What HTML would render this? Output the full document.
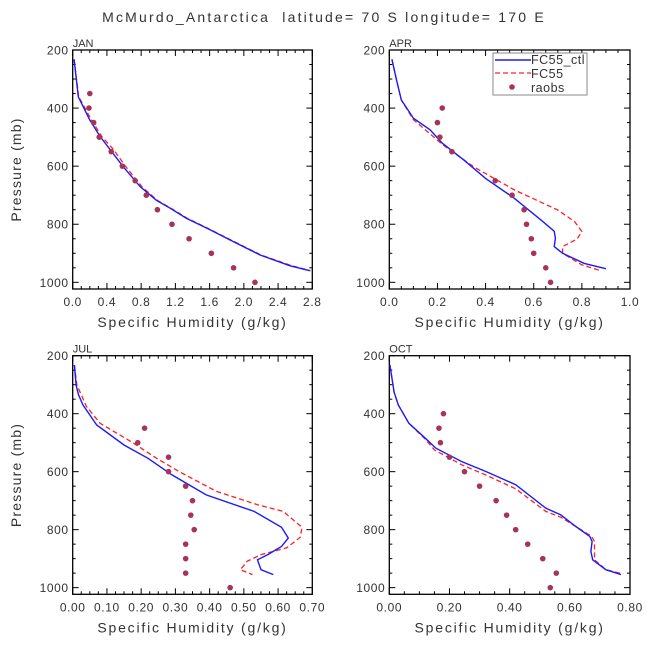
<!DOCTYPE html>
<html><head><meta charset="utf-8"><style>
body{margin:0;background:#fff;}
svg text{font-family:"Liberation Sans",sans-serif;fill:#333;}
</style></head><body>
<svg id="c" width="648" height="648" xmlns="http://www.w3.org/2000/svg"></svg>
<script>
const months = ["JAN","APR","JUL","OCT"];
const obsP = [350,400,450,500,550,600,650,700,750,800,850,900,950,1000];
const janCtlQ = [0.016,0.066,0.2,0.32,0.44,0.59,0.79,0.98,1.14,1.33,1.57,1.88,2.19,2.54,2.77];
const janCtlP = [232,361,441,498,544,602,671,718,745,780,814,860,906,943,960];
const janFcQ = [0.016,0.07,0.22,0.34,0.48,0.62,0.81,0.99,1.15,1.34,1.58,1.89,2.2,2.56,2.78];
const janFcP = [232,361,441,498,544,602,671,718,745,780,814,860,906,943,960];
const janObsQ = [0.2,0.19,0.245,0.31,0.45,0.58,0.73,0.86,0.99,1.16,1.36,1.62,1.88,2.13];
const aprCtlQ = [0.011,0.03,0.05,0.1,0.17,0.22,0.31,0.40,0.52,0.63,0.685,0.69,0.685,0.72,0.81,0.9];
const aprCtlP = [232,303,372,435,475,521,579,642,711,785,824,848,877,900,935,953];
const aprFcQ = [0.011,0.03,0.05,0.1,0.16,0.22,0.35,0.52,0.7,0.77,0.80,0.78,0.72,0.72,0.8,0.87];
const aprFcP = [232,303,372,440,482,525,602,682,751,791,825,851,877,900,940,958];
const aprObsQ = [null,0.22,0.2,0.21,0.26,null,0.44,0.51,0.56,0.57,0.59,0.6,0.65,0.67];
const julCtlQ = [0.005,0.01,0.017,0.03,0.07,0.15,0.22,0.29,0.39,0.53,0.61,0.63,0.61,0.57,0.54,0.55,0.586];
const julCtlP = [232,301,335,370,439,508,554,611,680,737,792,829,858,886,904,938,955];
const julFcQ = [0.005,0.012,0.04,0.08,0.17,0.245,0.31,0.42,0.54,0.615,0.67,0.665,0.625,0.55,0.51,0.49,0.525];
const julFcP = [232,300,375,433,496,554,599,668,714,737,792,826,863,886,909,938,955];
const julObsQ = [null,null,0.21,0.19,0.28,0.28,0.33,0.35,0.345,0.355,0.33,0.33,0.33,0.46];
const octCtlQ = [0.002,0.016,0.03,0.065,0.12,0.155,0.24,0.32,0.42,0.52,0.57,0.62,0.666,0.674,0.67,0.676,0.72,0.77];
const octCtlP = [232,326,370,433,485,519,565,599,645,726,749,789,823,841,875,904,938,955];
const octFcQ = [0.002,0.016,0.03,0.065,0.12,0.15,0.24,0.32,0.42,0.52,0.57,0.62,0.672,0.682,0.682,0.72,0.777];
const octFcP = [232,326,370,433,488,525,576,611,659,737,757,789,823,841,904,938,953];
const octObsQ = [null,0.18,0.165,0.17,0.2,0.25,0.3,0.355,0.39,0.42,0.46,0.51,0.555,0.535];
const xMax = [2.8,1.0,0.7,0.8];
const xTickLabels = [["0.0","0.4","0.8","1.2","1.6","2.0","2.4","2.8"],["0.0","0.2","0.4","0.6","0.8","1.0"],["0.00","0.10","0.20","0.30","0.40","0.50","0.60","0.70"],["0.00","0.20","0.40","0.60","0.80"]];
const yTicks = [200,400,600,800,1000];

const svg=document.getElementById('c');
const NS='http://www.w3.org/2000/svg';
function mk(tag,attrs,parent){const e=document.createElementNS(NS,tag);for(const k in attrs)e.setAttribute(k,attrs[k]);(parent||svg).appendChild(e);return e;}
const t=mk('text',{x:324,y:22,'text-anchor':'middle','font-size':14,'letter-spacing':'2.2','xml:space':'preserve'});
t.setAttribute('style','white-space:pre');
t.textContent='McMurdo_Antarctica  latitude= 70 S longitude= 170 E';



const panels=[{x0:72.7,x1:312.3,y0:50,y1:289},{x0:389.3,x1:630,y0:50,y1:289},{x0:72.7,x1:312.3,y0:355.7,y1:594.3},{x0:389.3,x1:630,y0:355.7,y1:594.3}];
const ctlQ=[janCtlQ,aprCtlQ,julCtlQ,octCtlQ],ctlP=[janCtlP,aprCtlP,julCtlP,octCtlP];
const fcQ=[janFcQ,aprFcQ,julFcQ,octFcQ],fcP=[janFcP,aprFcP,julFcP,octFcP];
const obsQ=[janObsQ,aprObsQ,julObsQ,octObsQ];

panels.forEach((pn,i)=>{
  const g=mk('g',{});
  
  
  const pmin=200,pmax=1023;
  const per200=(pn.y1-pn.y0)*200/(pmax-pmin);
  const sx=q=>pn.x0+q/xMax[i]*(pn.x1-pn.x0);
  const sy=p=>pn.y0+(p-pmin)/200*per200;
  const cid='clip'+i;
  const cp=mk('clipPath',{id:cid},g);mk('rect',{x:pn.x0,y:pn.y0,width:pn.x1-pn.x0,height:pn.y1-pn.y0},cp);
  const labs=xTickLabels[i];const nMaj=labs.length-1;
  for(let k=0;k<=nMaj*4;k++){const q=xMax[i]*k/(nMaj*4);const x=sx(q);const L=(k%4==0)?6:3;
    mk('line',{x1:x,x2:x,y1:pn.y1,y2:pn.y1-L,stroke:'#000','stroke-width':1},g);
    mk('line',{x1:x,x2:x,y1:pn.y0,y2:pn.y0+L,stroke:'#000','stroke-width':1},g);}
  labs.forEach((l,k)=>{const tx=mk('text',{x:sx(xMax[i]*k/nMaj),y:pn.y1+17,'text-anchor':'middle','font-size':12,'letter-spacing':'0.6'},g);tx.textContent=l;
    
    });
  for(let p=200;p<=1000;p+=50){const y=sy(p);const L=(p%200==0)?6:3;
    mk('line',{x1:pn.x0,x2:pn.x0+L,y1:y,y2:y,stroke:'#000','stroke-width':1},g);
    mk('line',{x1:pn.x1,x2:pn.x1-L,y1:y,y2:y,stroke:'#000','stroke-width':1},g);}
  yTicks.forEach(p=>{const tx=mk('text',{x:pn.x0-4,y:sy(p)+4.5,'text-anchor':'end','font-size':12,'letter-spacing':'0.6'},g);tx.textContent=p;
    
    });
  mk('rect',{x:pn.x0,y:pn.y0,width:pn.x1-pn.x0,height:pn.y1-pn.y0,fill:'none',stroke:'#000','stroke-width':1.3},g);
  const ml=mk('text',{x:pn.x0,y:pn.y0-3,'font-size':11},g);ml.textContent=months[i];
  
  
  const xt=mk('text',{x:(pn.x0+pn.x1)/2,y:pn.y1+38,'text-anchor':'middle','font-size':14,'letter-spacing':'1.8'},g);xt.textContent='Specific Humidity (g/kg)';
  
  
  if(i%2==0){const yt=mk('text',{x:0,y:0,'text-anchor':'middle','font-size':14,'letter-spacing':'1.2',transform:`translate(21,${(pn.y0+pn.y1)/2}) rotate(-90)`},g);yt.textContent='Pressure (mb)';
    
    }
  const pts=(Q,P)=>Q.map((q,k)=>sx(q).toFixed(1)+','+sy(P[k]).toFixed(1)).join(' ');
  const fl=mk('polyline',{points:pts(fcQ[i],fcP[i]),fill:'none',stroke:'#ff2020','stroke-width':1.3,'stroke-dasharray':'5,3','clip-path':`url(#${cid})`},g);
  
  
  const cl=mk('polyline',{points:pts(ctlQ[i],ctlP[i]),fill:'none',stroke:'#1a1aff','stroke-width':1.4,'clip-path':`url(#${cid})`},g);
  
  
  obsQ[i].forEach((q,k)=>{if(q==null)return;const d=mk('circle',{cx:sx(q),cy:sy(obsP[k]),r:2.8,fill:'#a63358'},g);
    
    });
});
const lg=mk('g',{});


mk('rect',{x:493,y:53,width:94,height:42,fill:'#fff',stroke:'#888','stroke-width':1},lg);
mk('line',{x1:495,x2:531,y1:60,y2:60,stroke:'#1a1aff','stroke-width':1.4},lg);
mk('line',{x1:495,x2:531,y1:73,y2:73,stroke:'#ff2020','stroke-width':1.3,'stroke-dasharray':'5,3'},lg);
mk('circle',{cx:512,cy:87,r:2.8,fill:'#a63358'},lg);
[['FC55_ctl',64],['FC55',78],['raobs',92]].forEach(([s,y])=>{const tx=mk('text',{x:531,y:y,'font-size':12.5,'letter-spacing':'0.5'},lg);tx.textContent=s;
  
  });
</script>
</body></html>
